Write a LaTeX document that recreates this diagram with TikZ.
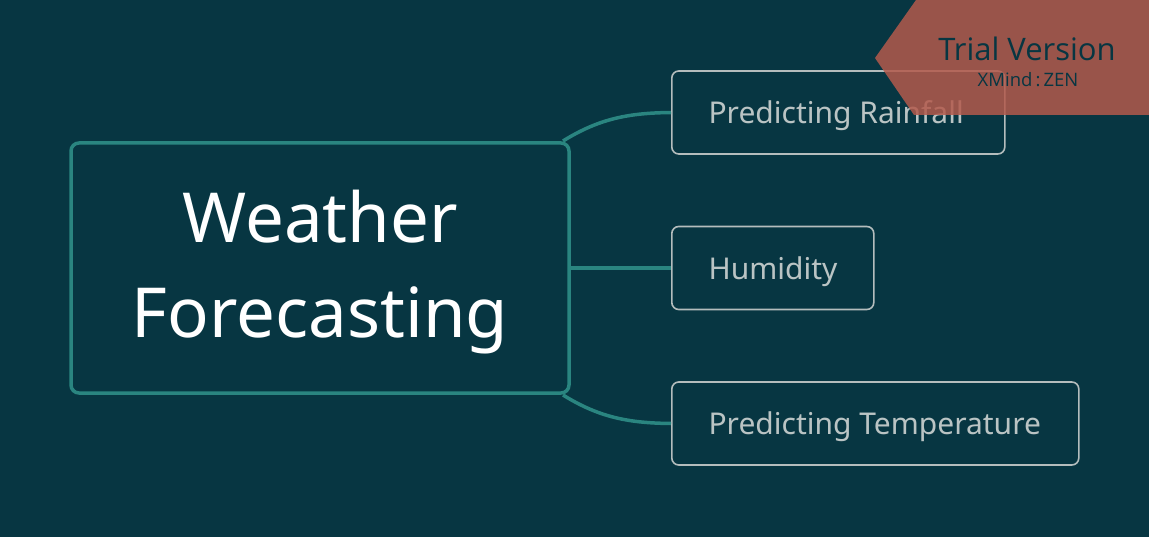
\documentclass[tikz,border=0pt]{standalone}
\usepackage{fontspec}
\setmainfont{Noto Sans}
\newfontfamily\bannerfont{Open Sans}
\definecolor{bg}{HTML}{073642}
\definecolor{teal}{HTML}{2A8580}
\definecolor{childline}{HTML}{B4BDBD}
\definecolor{childtext}{HTML}{BAC4C4}
\definecolor{banner}{HTML}{B35A4C}
\begin{document}
\begin{tikzpicture}[x=1pt,y=-1pt,
  mainbox/.style={draw=teal,line width=3.5pt,rounded corners=8pt,minimum width=498pt,minimum height=250pt,inner sep=0pt},
  maintext/.style={align=center,text=white,font=\fontsize{69}{95}\selectfont},
  childbox/.style={draw=childline,line width=1.6pt,rounded corners=7pt,minimum height=83pt,inner sep=0pt,anchor=west},
  childlabel/.style={anchor=west,text=childtext,font=\fontsize{30}{34}\selectfont},
  conn/.style={draw=teal,line width=3.5pt}]
\fill[bg] (0,0) rectangle (1149,537);
\useasboundingbox (0,0) rectangle (1149,537);
\node[mainbox] (main) at (320,268) {};
\node[maintext] (mt) at (320,272) {Weather\\Forecasting};
\node[childbox,minimum width=333pt] (c1) at (671,112.5) {};
\node[childlabel] (t1) at (705,116) {Predicting Rainfall};
\node[childbox,minimum width=202pt] (c2) at (671,268) {};
\node[childlabel] (t2) at (705,271.5) {Humidity};
\node[childbox,minimum width=407pt] (c3) at (671,423.5) {};
\node[childlabel] (t3) at (705,427) {Predicting Temperature};
\coordinate (m1) at (563,141);
\coordinate (m3) at (563,395);
\draw[conn] (m1) .. controls (600,118) and (630,113) .. (c1.west);
\draw[conn] (main.east) -- (c2.west);
\draw[conn] (m3) .. controls (600,418) and (630,423) .. (c3.west);
\fill[banner,opacity=0.85] (916,0) -- (1149,0) -- (1149,115) -- (914,115) -- (875,58) -- cycle;
\node[text=bg,font=\bannerfont\fontsize{31}{33}\selectfont] (tv) at (1027,49) {Trial Version};
\node[text=bg,font=\bannerfont\fontsize{18.5}{20}\selectfont] (xz) at (1028,80) {XMind\,:\,ZEN};
\end{tikzpicture}
\end{document}
